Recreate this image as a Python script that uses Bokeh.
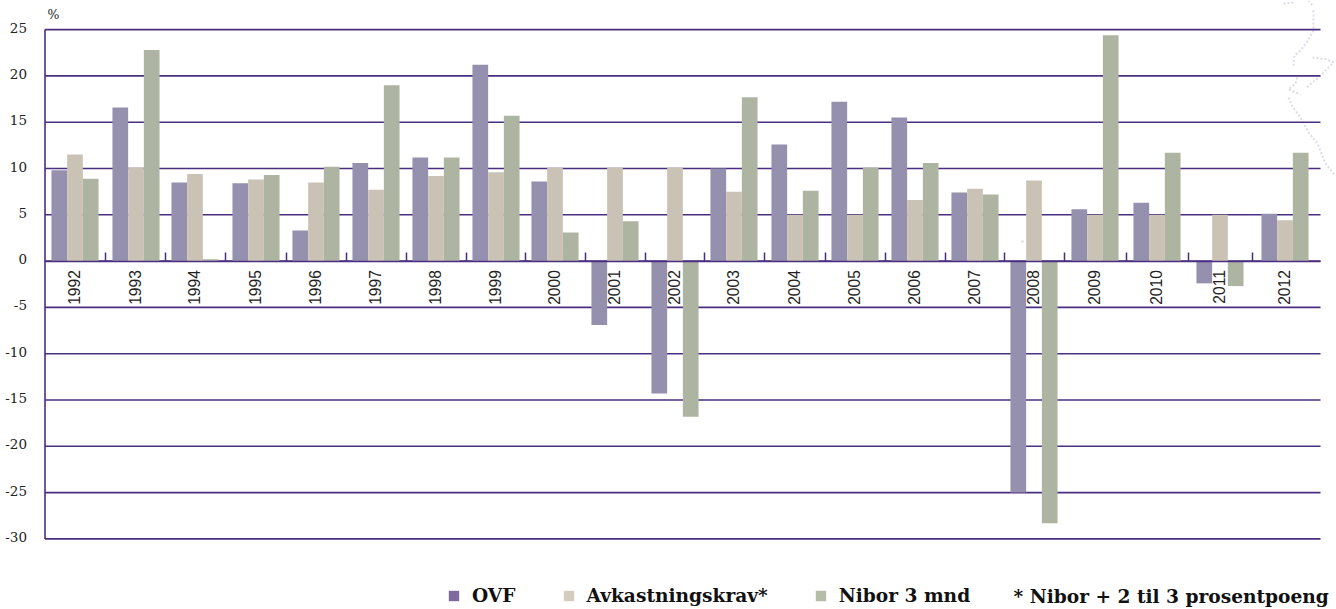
from bokeh.plotting import figure
from bokeh.embed import file_html
from bokeh.resources import INLINE
from bokeh.models import LinearAxis, FixedTicker, Label, Legend, LegendItem, ColumnDataSource, Range1d

years = list(range(1992, 2013))
ovf = [9.8,16.6,8.5,8.4,3.3,10.6,11.2,21.2,8.6,-6.9,-14.3,10.0,12.6,17.2,15.5,7.4,-25.0,5.6,6.3,-2.4,5.1]
avkastning = [11.5,10.1,9.4,8.8,8.5,7.7,9.2,9.6,10.1,10.1,10.1,7.5,5.0,5.0,6.6,7.8,8.7,5.0,5.0,5.0,4.4]
nibor = [8.9,22.8,0.2,9.3,10.2,19.0,11.2,15.7,3.1,4.3,-16.8,17.7,7.6,10.1,10.6,7.2,-28.3,24.4,11.7,-2.7,11.7]
y_ticks = [25,20,15,10,5,0,-5,-10,-15,-20,-25,-30]
series_names = ["OVF", "Avkastningskrav*", "Nibor 3 mnd"]
note = "* Nibor + 2 til 3 prosentpoeng"
unit_label = "%"

# faint background map outline, decorative (page pixels)
map_strands = [
    [(1313,10),(1313,30),(1306,42),(1300,50),(1294,55),(1293,65)],
    [(1312,57),(1327,59),(1333,62),(1323,72),(1317,78),(1305,88)],
    [(1297,77),(1295,83),(1288,89),(1300,94)],
    [(1288,97),(1292,106),(1300,117),(1308,132),(1317,143),(1325,163),(1335,175)],
    [(1283,3),(1295,2)],
    [(1308,0),(1312,5)],
]

BAR = ["#9490ae", "#c9c2b5", "#adb5a2"]
SWATCH = ["#7f6a9c", "#d4ccbf", "#b5bda9"]
LINE = "#4a2f80"

W, H = 1336, 609
u = 231.5 / 25
zero_page = 260.6

nudge = [0,1,0,1,1,1,1,1,0,0,0,-1,0,0,0,0,-1,0,2,5,10]
centers = [74.5 + 60 * i + nudge[i] for i in range(len(years))]
bounds_ticks = [(a + b) / 2 for a, b in zip(centers, centers[1:])]

p = figure(width=W, height=H, output_backend="svg", toolbar_location=None,
           x_range=Range1d(0, W),
           y_range=Range1d((zero_page - H) / u, zero_page / u),
           x_axis_type=None, y_axis_type=None,
           min_border_left=0, min_border_right=0, min_border_top=0, min_border_bottom=0)
p.outline_line_color = None
p.background_fill_color = None
p.border_fill_color = "white"
p.xgrid.visible = False
p.ygrid.visible = False

p.multi_line([[a for a, _ in s] for s in map_strands],
             [[(zero_page - b) / u for _, b in s] for s in map_strands],
             line_color="#dedbeb", line_width=2, line_dash="2 2")
p.scatter([1022], [(zero_page - 241) / u], size=3, color="#e4e2ee", line_color=None)
p.segment(x0=[44.5]*len(y_ticks), x1=[1320]*len(y_ticks), y0=y_ticks, y1=y_ticks, line_color=LINE, line_width=1.6)
p.segment(x0=[44.5], x1=[44.5], y0=[min(y_ticks)], y1=[max(y_ticks)], line_color=LINE, line_width=1.6)

bar_w = 15.7
for k, (vals, col) in enumerate(zip([ovf, avkastning, nibor], BAR)):
    xs = [c + (k - 1) * bar_w for c in centers]
    src = ColumnDataSource(dict(x=xs, top=vals))
    p.vbar(x="x", top="top", bottom=0, width=bar_w, source=src, fill_color=col, line_color=None)

label_lift = 2 / u
y_label_pos = [t + label_lift for t in y_ticks]
yax = LinearAxis(ticker=FixedTicker(ticks=y_label_pos), fixed_location=44.5)
yax.major_label_overrides = {pos: str(t) for pos, t in zip(y_label_pos, y_ticks)}
yax.axis_line_color = None
yax.major_tick_line_color = None
yax.minor_tick_line_color = None
yax.major_label_standoff = 12
yax.major_label_text_font = "DejaVu Serif"
yax.major_label_text_font_size = "13.5px"
yax.major_label_text_color = "#222222"
p.add_layout(yax, "left")

tick_ax = LinearAxis(ticker=FixedTicker(ticks=bounds_ticks), fixed_location=0, bounds=(44.5, 1320))
tick_ax.axis_line_color = LINE
tick_ax.axis_line_width = 1.6
tick_ax.major_tick_line_color = LINE
tick_ax.major_tick_line_width = 1.5
tick_ax.major_tick_in = 9
tick_ax.major_tick_out = 0
tick_ax.minor_tick_line_color = None
tick_ax.major_label_overrides = {t: "" for t in bounds_ticks}
p.add_layout(tick_ax, "below")

lab_ax = LinearAxis(ticker=FixedTicker(ticks=[c - 0.5 for c in centers]), fixed_location=0)
lab_ax.axis_line_color = None
lab_ax.major_tick_line_color = None
lab_ax.minor_tick_line_color = None
lab_ax.major_label_overrides = {c - 0.5: str(y) for c, y in zip(centers, years)}
lab_ax.major_label_orientation = 3.14159265 / 2
lab_ax.major_label_standoff = 3
lab_ax.major_label_text_font = "Liberation Sans"
lab_ax.major_label_text_font_size = "15.6px"
lab_ax.major_label_text_color = "#222222"
p.add_layout(lab_ax, "below")

items = []
for name, col in zip(series_names, SWATCH):
    r = p.quad(left=[-100], right=[-90], top=[1], bottom=[0], fill_color=col, line_color=None)
    items.append(LegendItem(label=name, renderers=[r]))
legend = Legend(items=items, orientation="horizontal", location=(447, 3),
                spacing=46, label_standoff=12, glyph_width=13, glyph_height=13,
                padding=0, margin=0, border_line_color=None, background_fill_color=None,
                label_text_font="DejaVu Serif", label_text_font_style="bold",
                label_text_font_size="18.6px", label_text_color="#111111")
p.add_layout(legend, "center")

p.add_layout(Label(x=1013, y=(zero_page - 596) / u, text=note, text_baseline="middle",
                   text_font="DejaVu Serif", text_font_style="bold", text_font_size="18.6px", text_color="#111111"))
p.add_layout(Label(x=47, y=(zero_page - 14) / u, text=unit_label, text_baseline="middle",
                   text_font="DejaVu Serif", text_font_size="12.5px", text_color="#222222"))

open("out.html", "w").write(file_html(p, INLINE))
